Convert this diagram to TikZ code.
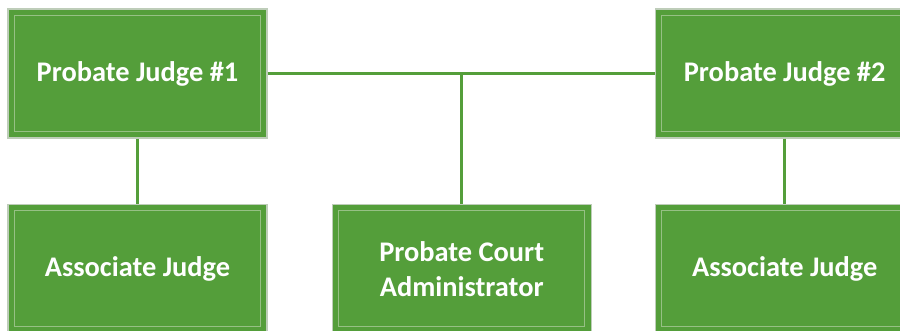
\documentclass[tikz,border=0pt]{standalone}
\usepackage{fontspec}
\setmainfont{Carlito}
\usetikzlibrary{positioning}
\definecolor{courtgreen}{RGB}{84,158,58}
\definecolor{rimgreen}{RGB}{150,192,132}
\definecolor{edgegray}{RGB}{190,205,185}

\begin{document}
\begin{tikzpicture}
\tikzstyle{office}=[rectangle, fill=courtgreen, draw=edgegray, line width=0.6pt, minimum width=129.5pt, minimum height=64.5pt, inner sep=0pt, align=center, text=white, font=\bfseries\fontsize{14.2}{17.5}\selectfont,
  path picture={\draw[rimgreen, line width=0.6pt] ([shift={(3.3pt,3.3pt)}]path picture bounding box.south west) rectangle ([shift={(-3.3pt,-3.3pt)}]path picture bounding box.north east);}]
\tikzstyle{connect}=[courtgreen, line width=1.5pt]
  \useasboundingbox (-68.75pt,36.75pt) rectangle (381.25pt,-128.75pt);
  % probate judges
  \node[office] (judge1) at (0,0) {Probate Judge \#1};
  \node[office] (judge2) [right=193.5pt of judge1] {Probate Judge \#2};
  % associate judges and administrator
  \node[office] (assoc1) [below=32.5pt of judge1] {Associate Judge};
  \node[office] (admin) [right=32pt of assoc1] {Probate Court\\Administrator};
  \node[office] (assoc2) [below=32.5pt of judge2] {Associate Judge};
  \path (judge1) edge [connect] (judge2)
        (judge1) edge [connect] (assoc1)
        (judge2) edge [connect] (assoc2)
        (admin) edge [connect] (admin |- judge1);
\end{tikzpicture}
\end{document}
